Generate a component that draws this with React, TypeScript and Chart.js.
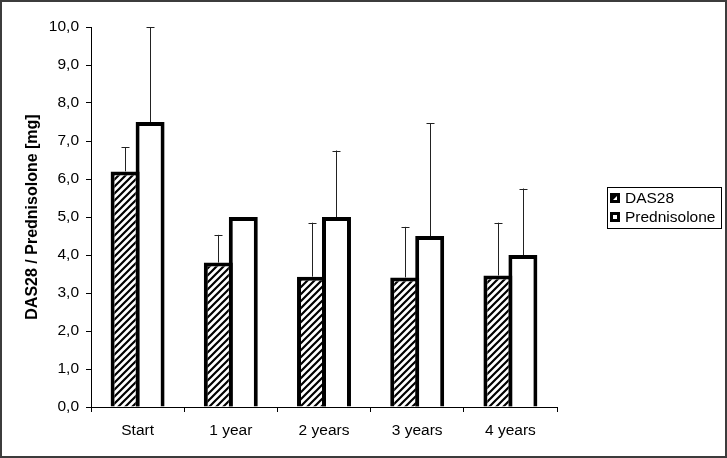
import React, { useEffect, useRef } from "react";
import { Chart, registerables } from "chart.js";

Chart.register(...registerables);

const categories = ["Start", "1 year", "2 years", "3 years", "4 years"];
const das28Values = [6.2, 3.8, 3.43, 3.41, 3.46];
const das28Sd = [0.64, 0.73, 1.42, 1.33, 1.39];
const prednisoloneValues = [7.5, 5.0, 5.0, 4.5, 4.0];
const prednisoloneSd = [2.5, 0, 1.75, 2.97, 1.75];
const seriesLabels = ["DAS28", "Prednisolone"];
const yTitle = "DAS28 / Prednisolone [mg]";

const FONT = "'Liberation Sans', Arial, sans-serif";

function makeHatch(): CanvasPattern | string {
  const c = document.createElement("canvas");
  const s = 7;
  c.width = s;
  c.height = s;
  const g = c.getContext("2d");
  if (!g) return "#fff";
  g.fillStyle = "#fff";
  g.fillRect(0, 0, s, s);
  g.strokeStyle = "#000";
  g.lineWidth = 2.2;
  g.beginPath();
  g.moveTo(-1, s + 1);
  g.lineTo(s + 1, -1);
  g.moveTo(-1, 1);
  g.lineTo(1, -1);
  g.moveTo(s - 1, s + 1);
  g.lineTo(s + 1, s - 1);
  g.stroke();
  const p = g.createPattern(c, "repeat");
  return p || "#fff";
}

const errorBarPlugin = {
  id: "errorBars",
  afterDatasetsDraw(chart: any) {
    const ctx = chart.ctx;
    const yScale = chart.scales.y;
    const sds = [das28Sd, prednisoloneSd];
    ctx.save();
    ctx.strokeStyle = "#222";
    ctx.lineWidth = 1;
    chart.data.datasets.forEach((ds: any, i: number) => {
      const meta = chart.getDatasetMeta(i);
      meta.data.forEach((el: any, j: number) => {
        const sd = sds[i][j];
        if (!sd) return;
        const v = ds.data[j];
        const x = Math.round(el.x) + 0.5;
        const yTop = yScale.getPixelForValue(v + sd);
        ctx.beginPath();
        ctx.moveTo(x, el.y);
        ctx.lineTo(x, yTop);
        ctx.moveTo(x - 4, Math.round(yTop) + 0.5);
        ctx.lineTo(x + 4, Math.round(yTop) + 0.5);
        ctx.stroke();
      });
    });
    ctx.restore();
  },
};

const legendPlugin = {
  id: "boxLegend",
  afterDraw(chart: any) {
    const ctx = chart.ctx;
    const left = 607;
    const top = 187;
    const w = 114;
    const h = 41;
    ctx.save();
    ctx.strokeStyle = "#000";
    ctx.lineWidth = 1;
    ctx.strokeRect(left + 0.5, top + 0.5, w, h);
    ctx.font = `15.5px ${FONT}`;
    ctx.textBaseline = "middle";
    ctx.fillStyle = "#000";
    chart.data.datasets.forEach((ds: any, i: number) => {
      const cy = top + 11 + i * 19;
      const mx = 610;
      const my = cy - 5;
      ctx.fillStyle = "#000";
      ctx.fillRect(mx, my, 10, 10);
      ctx.fillStyle = "#fff";
      if (i === 0) {
        ctx.beginPath();
        ctx.moveTo(mx + 3, my + 7);
        ctx.lineTo(mx + 7, my + 3);
        ctx.lineTo(mx + 7, my + 7);
        ctx.closePath();
        ctx.fill();
      } else {
        ctx.fillRect(mx + 3, my + 3, 4, 4);
      }
      ctx.fillStyle = "#000";
      ctx.fillText(ds.label, 625, cy + 1);
    });
    ctx.restore();
  },
};

const framePlugin = {
  id: "frame",
  beforeDraw(chart: any) {
    const ctx = chart.ctx;
    ctx.save();
    ctx.fillStyle = "#fff";
    ctx.fillRect(0, 0, chart.width, chart.height);
    ctx.restore();
  },
  afterDraw(chart: any) {
    const ctx = chart.ctx;
    ctx.save();
    ctx.strokeStyle = "#3c3c3c";
    ctx.lineWidth = 2;
    ctx.strokeRect(1, 1, chart.width - 2, chart.height - 2);
    ctx.restore();
  },
};

export default function App() {
  const ref = useRef<HTMLCanvasElement>(null);

  useEffect(() => {
    if (!ref.current) return;
    const hatch = makeHatch();
    const barCommon = {
      borderColor: "#000",
      borderWidth: 4,
      categoryPercentage: 0.536,
      barPercentage: 1.16,
    };
    const chart = new Chart(ref.current, {
      type: "bar",
      data: {
        labels: categories,
        datasets: [
          {
            label: seriesLabels[0],
            data: das28Values,
            backgroundColor: hatch as any,
            ...barCommon,
          },
          {
            label: seriesLabels[1],
            data: prednisoloneValues,
            backgroundColor: "#fff",
            ...barCommon,
          },
        ],
      },
      options: {
        animation: false,
        responsive: false,
        devicePixelRatio: 1,
        layout: { padding: { left: 0, top: 27, right: 170, bottom: 0 } },
        plugins: {
          legend: { display: false },
          tooltip: { enabled: false },
        },
        scales: {
          x: {
            type: "category",
            grid: {
              display: true,
              drawOnChartArea: false,
              drawTicks: true,
              tickLength: 5,
              color: "#000",
              offset: true,
            },
            border: { color: "#000", width: 1 },
            ticks: {
              color: "#000",
              padding: 9,
              font: { family: FONT, size: 15.5 },
              maxRotation: 0,
            },
            afterFit: (s: any) => {
              s.height = 51;
            },
          },
          y: {
            min: 0,
            max: 10,
            grid: {
              display: true,
              drawOnChartArea: false,
              drawTicks: true,
              tickLength: 5,
              color: "#000",
            },
            border: { color: "#000", width: 1 },
            ticks: {
              stepSize: 1,
              color: "#000",
              padding: 7,
              font: { family: FONT, size: 15.5 },
              callback: (v: any) => Number(v).toFixed(1).replace(".", ","),
            },
            title: {
              display: true,
              text: yTitle,
              color: "#000",
              font: { family: FONT, size: 16, weight: "bold" },
              padding: { top: 23, bottom: 0 },
            },
            afterFit: (s: any) => {
              s.width = 91;
            },
          },
        },
      },
      plugins: [framePlugin, errorBarPlugin, legendPlugin],
    });
    return () => chart.destroy();
  }, []);

  return (
    <div style={{ position: "absolute", left: 0, top: 0, width: 727, height: 458 }}>
      <canvas ref={ref} width={727} height={458} />
    </div>
  );
}
